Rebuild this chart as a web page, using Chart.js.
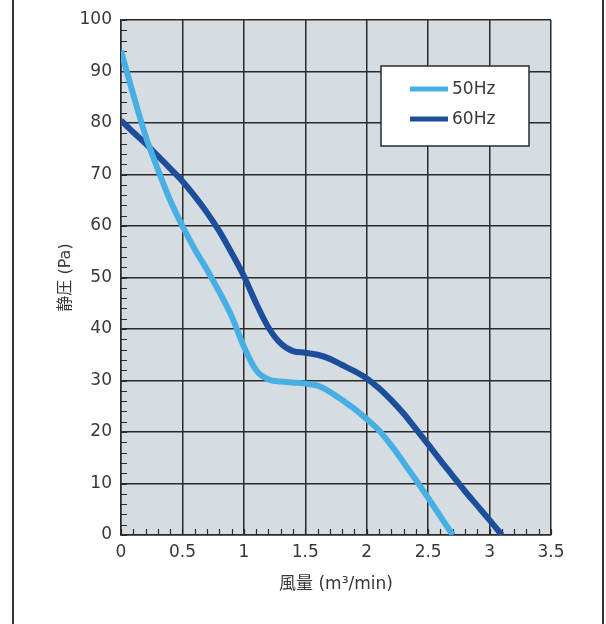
<!DOCTYPE html>
<html>
<head>
<meta charset="utf-8">
<script src="https://cdn.jsdelivr.net/npm/chart.js@4.4.1/dist/chart.umd.min.js"></script>
<style>
  html, body { margin: 0; padding: 0; background: #fff; }
  #wrap { width: 606px; height: 624px; position: relative; }
</style>
</head>
<body>
<div id="wrap"><canvas id="chart" width="606" height="624"></canvas></div>
<script>
'use strict';

// airflow (m3/min) sample points
const airflow = [0, 0.1, 0.2, 0.3, 0.4, 0.5, 0.6, 0.7, 0.8, 0.9, 1.0, 1.1, 1.2, 1.3, 1.4, 1.5,
  1.6, 1.7, 1.8, 1.9, 2.0, 2.1, 2.2, 2.3, 2.4, 2.5, 2.6, 2.7, 2.8, 2.9, 3.0, 3.1];
// static pressure (Pa)
const pressure50Hz = [94, 85.5, 77.5, 71, 65, 60, 55.5, 51.5, 47.2, 42.5, 36.6, 32, 30.2, 29.8,
  29.6, 29.4, 29, 27.8, 26.2, 24.5, 22.5, 20.3, 17.4, 14.1, 10.7, 7.2, 3.6, 0];
const pressure60Hz = [80.5, 78.2, 76, 73.6, 71.2, 68.7, 65.8, 62.6, 59, 54.8, 50.3, 45, 40.3,
  37.2, 35.7, 35.4, 35, 34.2, 33, 31.8, 30.4, 28.5, 26.2, 23.6, 20.6, 17.6, 14.5, 11.5, 8.5,
  5.7, 2.9, 0];
const seriesLabels = ['50Hz', '60Hz'];
const seriesColors = ['#47afe4', '#1c4e9c'];
const xTicks = [0, 0.5, 1, 1.5, 2, 2.5, 3, 3.5];
const yTicks = [0, 10, 20, 30, 40, 50, 60, 70, 80, 90, 100];
const xMinorStep = 0.1;
const yMinorStep = 2;

const FONT = "'DejaVu Sans', 'Noto Sans CJK JP', sans-serif";
const INK = '#2b2b2b';
const TEXT = '#383838';

function toPoints(ys) {
  return ys.map((y, i) => ({x: airflow[i], y: y}));
}

// page frame, plot background and inner minor ticks
const framePlugin = {
  id: 'frame',
  beforeDraw(chart) {
    const {ctx, chartArea: a} = chart;
    ctx.save();
    ctx.fillStyle = '#d6dde2';
    ctx.fillRect(a.left, a.top, a.right - a.left, a.bottom - a.top);
    ctx.strokeStyle = '#333';
    ctx.lineWidth = 2;
    ctx.beginPath();
    ctx.moveTo(13, 0); ctx.lineTo(13, chart.height);
    ctx.moveTo(603, 0); ctx.lineTo(603, chart.height);
    ctx.stroke();
    ctx.restore();
  },
  beforeDatasetsDraw(chart) {
    const {ctx, chartArea: a, scales} = chart;
    const xs = scales.x, ys = scales.y;
    ctx.save();
    ctx.strokeStyle = INK;
    ctx.lineWidth = 1.2;
    ctx.beginPath();
    for (let v = ys.min; v <= ys.max + 1e-9; v += yMinorStep) {
      const py = Math.round(ys.getPixelForValue(v)) + 0.5;
      ctx.moveTo(a.left, py); ctx.lineTo(a.left + 6, py);
    }
    for (let v = xs.min; v <= xs.max + 1e-9; v += xMinorStep) {
      const px = Math.round(xs.getPixelForValue(v)) + 0.5;
      ctx.moveTo(px, a.bottom); ctx.lineTo(px, a.bottom - 6);
    }
    ctx.stroke();
    ctx.restore();
  }
};

// boxed legend inside the plot
const legendBoxPlugin = {
  id: 'legendBox',
  afterDatasetsDraw(chart) {
    const ctx = chart.ctx;
    const box = {x: 381, y: 66, w: 148, h: 80};
    ctx.save();
    ctx.fillStyle = '#fff';
    ctx.fillRect(box.x, box.y, box.w, box.h);
    ctx.strokeStyle = INK;
    ctx.lineWidth = 1.5;
    ctx.strokeRect(box.x, box.y, box.w, box.h);
    chart.data.datasets.forEach((ds, i) => {
      const cy = box.y + 23 + i * 30;
      ctx.fillStyle = ds.borderColor;
      ctx.fillRect(box.x + 29, cy - 2.5, 38, 5);
      ctx.fillStyle = TEXT;
      ctx.font = '17px ' + FONT;
      ctx.textAlign = 'left';
      ctx.textBaseline = 'middle';
      ctx.fillText(ds.label, box.x + 71, cy + 1);
    });
    ctx.restore();
  }
};

const datasets = [pressure50Hz, pressure60Hz].map((ys, i) => ({
  label: seriesLabels[i],
  data: toPoints(ys),
  borderColor: seriesColors[i],
  backgroundColor: seriesColors[i],
  borderWidth: 6,
  pointRadius: 0,
  tension: 0.4,
  cubicInterpolationMode: 'monotone',
  borderCapStyle: 'butt'
}));

new Chart(document.getElementById('chart'), {
  type: 'line',
  data: {datasets: datasets},
  plugins: [framePlugin, legendBoxPlugin],
  options: {
    responsive: false,
    animation: false,
    layout: {padding: {left: 0, top: 20, right: 55, bottom: 0}},
    plugins: {legend: {display: false}, tooltip: {enabled: false}},
    scales: {
      x: {
        type: 'linear',
        min: xTicks[0],
        max: xTicks[xTicks.length - 1],
        afterBuildTicks(scale) { scale.ticks = xTicks.map(v => ({value: v})); },
        afterFit(scale) { scale.height = 89; },
        ticks: {
          color: TEXT,
          font: {family: FONT, size: 17},
          padding: 7,
          maxRotation: 0,
          callback: v => String(v)
        },
        grid: {color: INK, lineWidth: 1.5, drawTicks: false},
        border: {display: true, color: INK, width: 1.5},
        title: {
          display: true,
          text: '風量 (m³/min)',
          color: TEXT,
          font: {family: FONT, size: 17},
          padding: {top: 0, bottom: 29}
        }
      },
      y: {
        min: yTicks[0],
        max: yTicks[yTicks.length - 1],
        afterBuildTicks(scale) { scale.ticks = yTicks.map(v => ({value: v})); },
        afterFit(scale) { scale.width = 121; },
        ticks: {
          color: TEXT,
          font: {family: FONT, size: 17},
          padding: 9
        },
        grid: {color: INK, lineWidth: 1.5, drawTicks: false},
        border: {display: true, color: INK, width: 1.5},
        title: {
          display: true,
          text: '静圧 (Pa)',
          color: TEXT,
          font: {family: FONT, size: 16},
          padding: {top: 56, bottom: 0}
        }
      }
    }
  }
});
</script>
</body>
</html>
